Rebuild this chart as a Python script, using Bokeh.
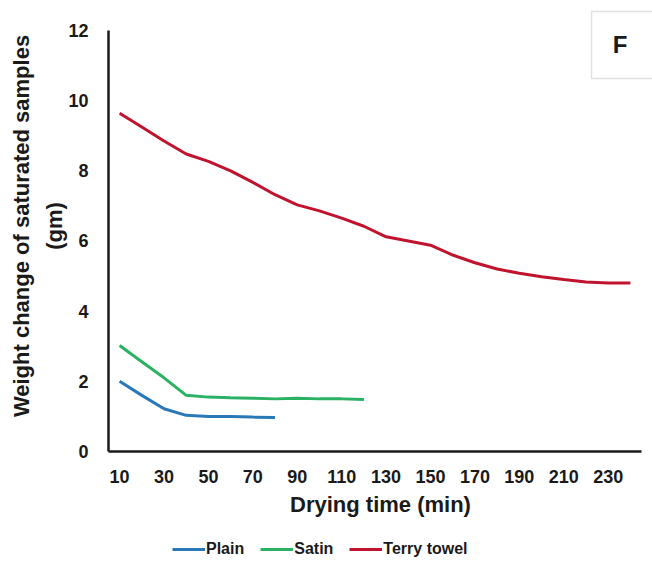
from bokeh.plotting import figure
from bokeh.models import (Range1d, FixedTicker, LinearAxis, Legend, LegendItem, Label, BoxAnnotation)
from bokeh.layouts import column
from bokeh.embed import file_html
from bokeh.resources import INLINE

# ---- data ----
time_plain = [10, 20, 30, 40, 50, 60, 70, 80]
plain = [2.0, 1.6, 1.22, 1.03, 1.0, 1.0, 0.98, 0.97]

time_satin = [10, 20, 30, 40, 50, 60, 70, 80, 90, 100, 110, 120]
satin = [3.02, 2.56, 2.1, 1.6, 1.55, 1.53, 1.52, 1.5, 1.52, 1.5, 1.5, 1.48]

time_terry = [10, 20, 30, 40, 50, 60, 70, 80, 90, 100, 110, 120,
              130, 140, 150, 160, 170, 180, 190, 200, 210, 220, 230, 240]
terry = [9.64, 9.25, 8.85, 8.48, 8.27, 8.0, 7.67, 7.32, 7.03, 6.86, 6.65, 6.42,
         6.12, 6.0, 5.88, 5.6, 5.38, 5.2, 5.08, 4.98, 4.9, 4.83, 4.8, 4.8]

x_ticks = [10, 30, 50, 70, 90, 110, 130, 150, 170, 190, 210, 230]
y_ticks = [0, 2, 4, 6, 8, 10, 12]

series_names = ["Plain", "Satin", "Terry towel"]
colors = ["#2a78b8", "#2bb163", "#c0142e"]
panel_letter = "F"

FONT = "Liberation Sans"
TXT = "#1a1a1a"

# frame extends to top/right canvas edges; axis lines limited with bounds
p = figure(frame_width=544, frame_height=451, output_backend="svg", toolbar_location=None,
           x_range=Range1d(5, 249.95), y_range=Range1d(0, 12.855),
           min_border_left=108, min_border_right=0, min_border_top=0,
           min_border_bottom=79, y_axis_location=None)
p.background_fill_color = "white"
p.border_fill_color = "white"
p.outline_line_color = None
p.grid.visible = False

r1 = p.line(time_plain, plain, line_color=colors[0], line_width=3)
r2 = p.line(time_satin, satin, line_color=colors[1], line_width=3)
r3 = p.line(time_terry, terry, line_color=colors[2], line_width=3)

# x axis
xa = p.xaxis[0]
xa.ticker = FixedTicker(ticks=x_ticks)
xa.axis_label = "Drying time (min)"
xa.bounds = (5, 245)

# inner y axis
ya = LinearAxis(ticker=FixedTicker(ticks=y_ticks), axis_label="(gm)", bounds=(0, 12))
p.add_layout(ya, "left")
# outer y axis (title line 1)
ya2 = LinearAxis(ticker=FixedTicker(ticks=[]), axis_label="Weight change of saturated samples")
p.add_layout(ya2, "left")

for ax in [xa, ya]:
    ax.axis_line_color = TXT
    ax.axis_line_width = 2.5
    ax.major_tick_line_color = None
    ax.minor_tick_line_color = None
    ax.major_tick_out = 0
    ax.major_tick_in = 0
    ax.major_label_text_font = FONT
    ax.major_label_text_font_style = "bold"
    ax.major_label_text_font_size = "18px"
    ax.major_label_text_color = TXT
    ax.axis_label_text_font = FONT
    ax.axis_label_text_font_style = "bold"
    ax.axis_label_text_font_size = "22px"
    ax.axis_label_text_color = TXT
xa.major_label_standoff = 18
xa.axis_label_standoff = 6
ya.major_label_standoff = 20
ya.axis_label_standoff = -2

ya2.axis_line_color = None
ya2.major_tick_line_color = None
ya2.minor_tick_line_color = None
ya2.major_tick_out = 0
ya2.major_label_standoff = 0
ya2.axis_label_standoff = 6
ya2.axis_label_text_font = FONT
ya2.axis_label_text_font_style = "bold"
ya2.axis_label_text_font_size = "22px"
ya2.axis_label_text_color = TXT

# panel letter box
box = BoxAnnotation(left=222.5, right=262, top=12.54, bottom=10.63,
                    fill_color="white", fill_alpha=1.0,
                    line_color="#9a9a9a", line_width=1.5)
p.add_layout(box)
lab = Label(x=235.3, y=11.6, text=panel_letter,
            text_font=FONT, text_font_style="bold", text_font_size="24px",
            text_color=TXT, text_baseline="middle", text_align="center")
p.add_layout(lab)

# legend strip below (its renderers hold the series but sit outside this strip's ranges)
p2 = figure(width=652, height=40, output_backend="svg", toolbar_location=None,
            x_range=Range1d(1000, 1652), y_range=Range1d(1000, 1040),
            min_border=0, x_axis_location=None, y_axis_location=None)
p2.outline_line_color = None
p2.grid.visible = False
p2.background_fill_color = "white"
p2.border_fill_color = "white"
l1 = p2.line(time_plain, plain, line_color=colors[0], line_width=3)
l2 = p2.line(time_satin, satin, line_color=colors[1], line_width=3)
l3 = p2.line(time_terry, terry, line_color=colors[2], line_width=3)
legend = Legend(items=[LegendItem(label=series_names[0], renderers=[l1]),
                       LegendItem(label=series_names[1], renderers=[l2]),
                       LegendItem(label=series_names[2], renderers=[l3])],
                orientation="horizontal", location=(64, 11))
legend.label_text_font = FONT
legend.label_text_font_style = "bold"
legend.label_text_font_size = "16px"
legend.label_text_color = TXT
legend.border_line_color = None
legend.background_fill_alpha = 0
legend.glyph_width = 33
legend.glyph_height = 20
legend.label_standoff = 1
legend.spacing = 16
legend.margin = 0
legend.padding = 4
p2.add_layout(legend)

open("out.html", "w").write(file_html(column(p, p2, spacing=0), INLINE))
